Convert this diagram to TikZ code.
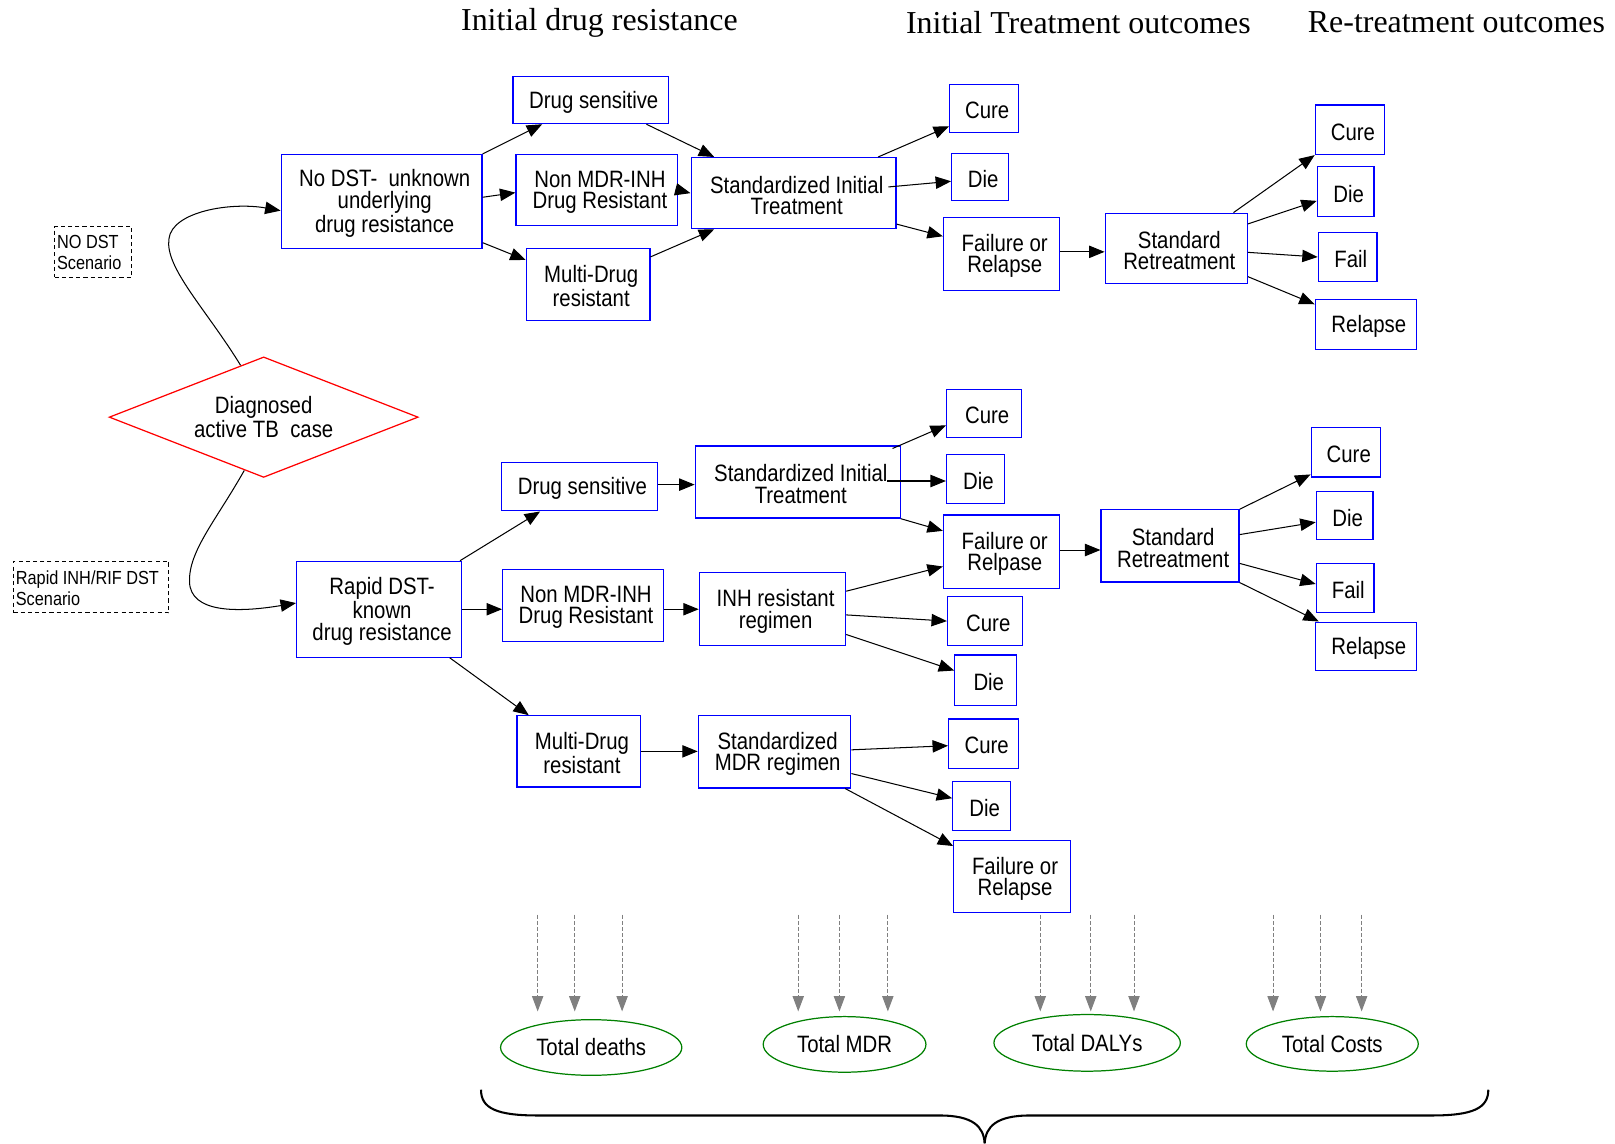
\documentclass[tikz,border=0pt]{standalone}
\usepackage{fontspec}
\setmainfont{Liberation Serif}
\newfontfamily\nar[FakeStretch=0.86]{Liberation Sans}
\usetikzlibrary{shapes.geometric,arrows.meta}
\newcommand\mkbox[6]{\node[bx, minimum width={(#4-#2)*0.5pt}, minimum height={(#5-#3)*0.5pt}] (#1) at ({(#2+#4)/2},{(#3+#5)/2}) {};
  \node[bxtxt] (#1t) at ([shift={(3,2)}]#1.center) {#6};}
\begin{document}
\begin{tikzpicture}[x=0.5pt,y=-0.5pt,
  txt/.style={font=\nar\fontsize{11.5}{10.3}\selectfont},
  bx/.style={draw=blue, line width=0.6pt, inner sep=0pt},
  bxtxt/.style={txt, inner sep=0pt, align=center},
  scen/.style={draw=black, line width=0.5pt, dash pattern=on 2pt off 1.5pt, inner sep=0pt},
  scentxt/.style={font=\nar\fontsize{9.2}{10}\selectfont, align=left, anchor=west, inner sep=0pt},
  ell/.style={txt, ellipse, draw=green!50!black, line width=0.6pt, inner sep=0pt},
  ttl/.style={font=\fontsize{15.5}{18}\selectfont, inner sep=0pt},
  arr/.style={draw=black, line width=0.5pt, -{Triangle[length=7.5pt,width=6pt]}},
  garr/.style={draw=gray, line width=0.5pt, dash pattern=on 2pt off 1pt, -{Triangle[length=7.5pt,width=5.5pt]}},
  brace/.style={draw=black, line width=1pt}]
\useasboundingbox (0,0) rectangle (1568,1110);

% titles
\node[ttl] (t1) at (582,22) {Initial drug resistance};
\node[ttl] (t2) at (1047,22) {Initial Treatment outcomes};
\node[ttl] (t3) at (1414,22) {Re-treatment outcomes};

% scenario labels
\node[scen, minimum width=37.5pt, minimum height=24.5pt] (sc1) at (90.5,244.5) {};
\node[scentxt] (sc1t) at (55,245) {NO DST\\Scenario};
\node[scen, minimum width=75.5pt, minimum height=25pt] (sc2) at (88.5,570) {};
\node[scentxt] (sc2t) at (15,571) {Rapid INH/RIF DST\\Scenario};

% diamond
\node[txt, diamond, aspect=2.56, draw=red, line width=0.6pt, minimum width=150pt, minimum height=58.5pt, inner sep=0pt, align=center] (dia) at (256,405) {Diagnosed\\active TB~ case};

% top branch
\mkbox{nodst}{273}{150}{468}{241}{No DST-~ unknown\\underlying\\drug resistance}
\mkbox{ds1}{498}{74}{649}{120}{Drug sensitive}
\mkbox{nonmdr1}{501}{150}{658}{219}{Non MDR-INH\\Drug Resistant}
\mkbox{mdr1}{511}{241}{631}{311}{Multi-Drug\\resistant}
\mkbox{sit1}{671}{153}{870}{222}{Standardized Initial\\Treatment}
\mkbox{cure1}{922}{82}{989}{129}{Cure}
\mkbox{die1}{924}{149}{979}{195}{Die}
\mkbox{fr1}{916}{211}{1029}{282}{Failure or\\Relapse}
\mkbox{sr1}{1073}{207}{1211}{275}{Standard\\Retreatment}
\mkbox{rcure1}{1277}{102}{1344}{150}{Cure}
\mkbox{rdie1}{1279}{162}{1334}{210}{Die}
\mkbox{rfail1}{1280}{226}{1337}{273}{Fail}
\mkbox{rrel1}{1277}{291}{1375}{339}{Relapse}

% lower branch
\mkbox{rapid}{288}{545}{448}{638}{Rapid DST-\\known\\drug resistance}
\mkbox{ds2}{487}{449}{638}{496}{Drug sensitive}
\mkbox{sit2}{675}{433}{874}{503}{Standardized Initial\\Treatment}
\mkbox{cure2}{919}{378}{992}{425}{Cure}
\mkbox{die2}{919}{441}{975}{489}{Die}
\mkbox{fr2}{916}{500}{1029}{571}{Failure or\\Relpase}
\mkbox{sr2}{1069}{495}{1203}{565}{Standard\\Retreatment}
\mkbox{rcure2}{1273}{415}{1340}{463}{Cure}
\mkbox{rdie2}{1278}{477}{1333}{524}{Die}
\mkbox{rfail2}{1278}{547}{1334}{595}{Fail}
\mkbox{rrel2}{1277}{604}{1375}{651}{Relapse}
\mkbox{nonmdr2}{488}{553}{644}{623}{Non MDR-INH\\Drug Resistant}
\mkbox{inh}{679}{556}{821}{627}{INH resistant\\regimen}
\mkbox{cure3}{920}{579}{993}{627}{Cure}
\mkbox{die3}{927}{636}{987}{685}{Die}
\mkbox{mdr2}{502}{695}{622}{764}{Multi-Drug\\resistant}
\mkbox{smdr}{678}{695}{826}{765}{Standardized\\MDR regimen}
\mkbox{cure4}{921}{698}{989}{746}{Cure}
\mkbox{die4}{925}{759}{981}{806}{Die}
\mkbox{fr4}{926}{816}{1039}{886}{Failure or\\Relapse}

% totals
\node[ell, minimum width=88pt, minimum height=27pt] (tdeath) at (574,1017) {Total deaths};
\node[ell, minimum width=79pt, minimum height=27pt] (tmdr) at (820,1014) {Total MDR};
\node[ell, minimum width=90.5pt, minimum height=27.5pt] (tdaly) at (1055.5,1012.5) {Total DALYs};
\node[ell, minimum width=83.5pt, minimum height=26.5pt] (tcost) at (1293.5,1013.5) {Total Costs};

% curved connectors from diamond
\draw[arr] (dia.114) .. controls (200,300) and (160,260) .. (164,232)
  .. controls (167,205) and (225,196) .. ([shift={(0,9)}]nodst.west);
\draw[arr] (dia.250) .. controls (210,505) and (183,535) .. (184,565)
  .. controls (185,595) and (230,595) .. ([shift={(0,-6)}]rapid.west);

% top connectors
\draw[arr] (nodst.north east) -- ([shift={(29,0)}]ds1.south west);
\draw[arr] ([shift={(0,-4)}]nodst.east) -- ([shift={(0,2.5)}]nonmdr1.west);
\draw[arr] ([shift={(0,-6)}]nodst.south east) -- ([shift={(0,12)}]mdr1.north west);
\draw[arr] ([shift={(-22,0)}]ds1.south east) -- ([shift={(23,0)}]sit1.north west);
\draw[arr] (nonmdr1.east) -- (sit1.west);
\draw[arr] ([shift={(0,9)}]mdr1.north east) -- ([shift={(23,0)}]sit1.south west);
\draw[arr] ([shift={(-18,0)}]sit1.north east) -- ([shift={(0,-7)}]cure1.south west);
\draw[arr] ([shift={(-8,-6)}]sit1.east) -- ([shift={(0,4)}]die1.west);
\draw[arr] ([shift={(0,-5)}]sit1.south east) -- ([shift={(0,19)}]fr1.north west);
\draw[arr] ([shift={(0,-2)}]fr1.east) -- ([shift={(0,-2)}]fr1.east -| sr1.west);
\draw[arr] ([shift={(-14,0)}]sr1.north east) -- (rcure1.south west);
\draw[arr] ([shift={(0,11)}]sr1.north east) -- ([shift={(0,9)}]rdie1.west);
\draw[arr] ([shift={(0,4)}]sr1.east) -- (rfail1.west);
\draw[arr] ([shift={(0,-7)}]sr1.south east) -- ([shift={(0,5)}]rrel1.north west);

% lower connectors
\draw[arr] ([shift={(-2,0)}]rapid.north east) -- ([shift={(38,0)}]ds2.south west);
\draw[arr] (rapid.east) -- (rapid.east -| nonmdr2.west);
\draw[arr] ([shift={(-12,0)}]rapid.south east) -- ([shift={(12,0)}]mdr2.north west);
\draw[arr] ([shift={(0,-2)}]ds2.east) -- ([shift={(0,-2)}]ds2.east -| sit2.west);
\draw[arr] ([shift={(-8,3)}]sit2.north east) -- ([shift={(0,11.5)}]cure2.west);
\draw[arr] ([shift={(-13,-1)}]sit2.east) -- ([shift={(0,2)}]die2.west);
\draw[arr] (sit2.south east) -- ([shift={(0,16)}]fr2.north west);
\draw[arr] ([shift={(0,-1.5)}]fr2.east) -- ([shift={(0,-1.5)}]fr2.east -| sr2.west);
\draw[arr] (sr2.north east) -- ([shift={(0,-3)}]rcure2.south west);
\draw[arr] ([shift={(0,-11)}]sr2.east) -- ([shift={(0,6.5)}]rdie2.west);
\draw[arr] ([shift={(0,17)}]sr2.east) -- ([shift={(0,-4)}]rfail2.west);
\draw[arr] (sr2.south east) -- ([shift={(4,0)}]rrel2.north west);
\draw[arr] (inh.west -| nonmdr2.east) -- (inh.west);
\draw[arr] ([shift={(0,-17.5)}]inh.east) -- ([shift={(0,14.5)}]fr2.west);
\draw[arr] ([shift={(0,5.5)}]inh.east) -- (cure3.west);
\draw[arr] ([shift={(0,24.5)}]inh.east) -- ([shift={(0,-9.5)}]die3.west);
\draw[arr] (mdr2.east) -- (mdr2.east -| smdr.west);
\draw[arr] ([shift={(0,-2)}]smdr.east) -- ([shift={(0,2)}]cure4.west);
\draw[arr] ([shift={(0,21)}]smdr.east) -- ([shift={(0,-7.5)}]die4.west);
\draw[arr] ([shift={(-6,0)}]smdr.south east) -- ([shift={(0,6)}]fr4.north west);

% gray dashed arrows to totals
\foreach \x [count=\i] in {522,558,604,775,815,862,1010,1059,1101,1236,1282,1322} {
  \coordinate (gt\i) at (\x,888);
  \coordinate (gb\i) at (\x,982);
  \draw[garr] (gt\i) -- (gb\i);
}

% brace
\draw[brace] (467,1058) .. controls (467,1076) and (482,1083) .. (522,1083)
  -- (912,1083) .. controls (945,1083) and (955,1094) .. (956,1110);
\draw[brace] (956,1110) .. controls (957,1094) and (967,1083) .. (1000,1083)
  -- (1390,1083) .. controls (1430,1083) and (1445,1076) .. (1445,1058);
\end{tikzpicture}
\end{document}
